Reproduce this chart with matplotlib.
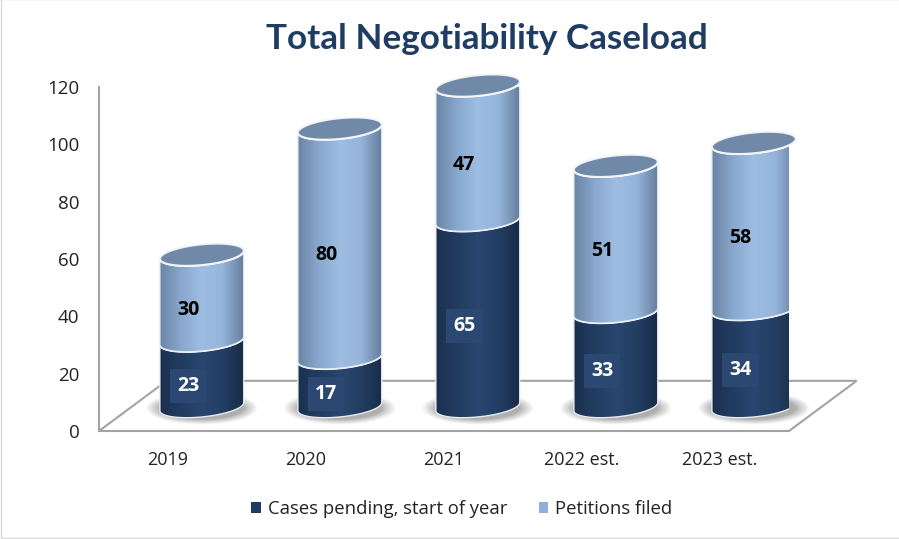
import numpy as np
import matplotlib
matplotlib.use('Agg')
import matplotlib.pyplot as plt
from matplotlib.colors import LinearSegmentedColormap
from matplotlib.patches import Ellipse, PathPatch, Patch, Polygon, Rectangle
from matplotlib.path import Path

years = ['2019', '2020', '2021', '2022 est.', '2023 est.']
pending = [23, 17, 65, 33, 34]
petitions = [30, 80, 47, 51, 58]
y_ticks = [0, 20, 40, 60, 80, 100, 120]

W, H = 899, 539
TICK_FONT = 'Open Sans'

# fake 3d: floor depth and where the cylinders stand on it
DEPTH_X, DEPTH_Y = 0.49, 17.5
OFF_X, OFF_Y = 0.245, 8.5
RX, RY, SKEW = 0.304, 3.6, 1.4

dark_cmap = LinearSegmentedColormap.from_list('dark', ['#1b304e', '#223c61', '#28466f', '#233e63', '#192c48'])
light_cmap = LinearSegmentedColormap.from_list('light', ['#6a85a5', '#89a8cd', '#9dbde3', '#95b4da', '#647e9c'])


def ring(cx, cy, t):
    return np.column_stack([cx + RX * np.cos(t), cy + RY * np.sin(t) + SKEW * np.cos(t)])


def segment(ax, cx, y0, y1, cmap, z):
    # body = front arc at the bottom, then back up along the front arc of the top
    t = np.linspace(np.pi, 2 * np.pi, 60)
    low = ring(cx, y0, t)
    high = ring(cx, y1, t[::-1])
    verts = np.vstack([low, high, low[:1]])
    codes = [Path.MOVETO] + [Path.LINETO] * (len(verts) - 2) + [Path.CLOSEPOLY]
    body = PathPatch(Path(verts, codes), fc='none', ec='#e8ecf2', lw=1.0, zorder=z + 0.1)
    ax.add_patch(body)
    grad = np.linspace(0, 1, 256).reshape(1, -1)
    im = ax.imshow(grad, cmap=cmap, aspect='auto', zorder=z, clip_on=True,
                   extent=[cx - RX, cx + RX, y0 - RY - SKEW, y1 + RY + SKEW])
    im.set_clip_path(body)
    # white rim on the top edge of the segment
    ax.plot(high[:, 0], high[:, 1], color='white', lw=1.6, zorder=z + 0.2, clip_on=False)


fig = plt.figure(figsize=(W / 100, H / 100), dpi=100, facecolor='white')
ax = fig.add_axes([99 / W, 1 - 431 / H, 690 / W, 344 / H])
ax.set_facecolor('none')

# floor
floor = Polygon([(-0.5, 0), (4.5, 0), (4.5 + DEPTH_X, DEPTH_Y), (-0.5 + DEPTH_X, DEPTH_Y)], closed=True,
                fc='white', ec='#a3a3a3', lw=1.5, zorder=1, clip_on=False)
ax.add_patch(floor)

for i in range(len(years)):
    cx = i + OFF_X
    # soft shadow under the cylinder
    for k in range(16):
        grow = (1 - k / 16) ** 1.5
        ax.add_patch(Ellipse((cx, OFF_Y - 0.5), 2 * RX + 0.2 * grow, 2 * RY + 0.6 + 3.6 * grow,
                             fc='#606060', ec='none', alpha=0.04, zorder=2, clip_on=False))
    a = pending[i]
    b = petitions[i]
    segment(ax, cx, OFF_Y, OFF_Y + a, dark_cmap, 3)
    segment(ax, cx, OFF_Y + a, OFF_Y + a + b, light_cmap, 4)
    # top face
    t = np.linspace(0, 2 * np.pi, 120)
    top = Polygon(ring(cx, OFF_Y + a + b, t), closed=True, fc='#7189a9', ec='#f2f4f8', lw=1.4, zorder=5, clip_on=False)
    ax.add_patch(top)
    # labels sit a bit left and below the segment middle
    ax.text(i + 0.145, a / 2 + OFF_Y - 4.2, str(a), color='white', fontsize=14, fontweight='bold',
            family=TICK_FONT, ha='center', va='center', zorder=6,
            bbox=dict(boxstyle='square,pad=0.36', fc='#2a4871', ec='none'))
    ax.text(i + 0.145, a + b / 2 + OFF_Y - 4.2, str(b), color='black', fontsize=14, fontweight='bold',
            family=TICK_FONT, ha='center', va='center', zorder=6)

ax.set_xlim(-0.5, 4.5)
ax.set_ylim(0, 120)
ax.set_xticks(range(len(years)))
ax.set_xticklabels(years, family=TICK_FONT, fontsize=13, color='#222222')
ax.set_yticks(y_ticks)
ax.set_yticklabels([str(v) for v in y_ticks], family=TICK_FONT, fontsize=13.5, color='#222222')
ax.tick_params(axis='x', length=0, pad=14.5)
ax.tick_params(axis='y', length=0, pad=14)
for s in ['top', 'right', 'bottom']:
    ax.spines[s].set_visible(False)
ax.spines['left'].set_color('#a3a3a3')
ax.spines['left'].set_linewidth(1.5)

fig.text(487 / W, 1 - 39 / H, 'Total Negotiability Caseload', family='Lato', fontweight='bold',
         fontsize=25.3, color='#1f3d63', ha='center', va='center')

handles = [Patch(fc='#1f3d63', ec='none'), Patch(fc='#8fb0da', ec='none')]
fig.legend(handles, ['Cases pending, start of year', 'Petitions filed'], ncol=2, frameon=False,
           loc='center', bbox_to_anchor=(462 / W, 1 - 509 / H), prop={'family': TICK_FONT, 'size': 13.3},
           handlelength=0.5, handleheight=0.5, handletextpad=0.4, columnspacing=1.7, labelcolor='#222222')

# thin frame left from the screenshot
fig.add_artist(Rectangle((1 / W, 1 / H), 1.2, 1, transform=fig.transFigure, fc='none', ec='#d9d9d9', lw=1))

fig.savefig('out.png', dpi=100)
